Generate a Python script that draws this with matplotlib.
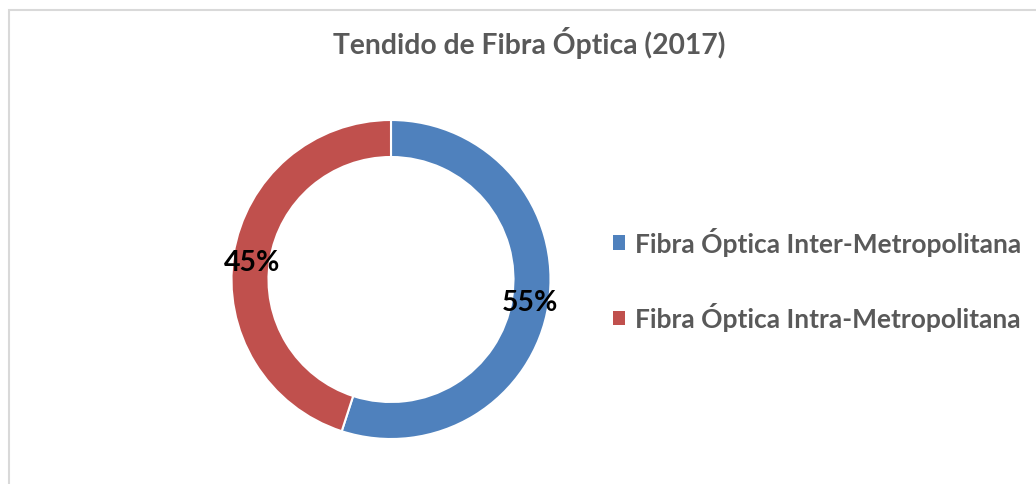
import matplotlib
matplotlib.use('Agg')
from matplotlib import pyplot
from matplotlib.patches import Patch, Rectangle

# data
labels = ['Fibra Óptica Inter-Metropolitana', 'Fibra Óptica Intra-Metropolitana']
shares = [55, 45]
colors = ['#4F81BD', '#C0504D']
title  = 'Tendido de Fibra Óptica (2017)'

pyplot.rcParams['font.family'] = ['Lato', 'DejaVu Sans']
W, H = 1036, 485
fig = pyplot.figure(figsize=(W/100, H/100), dpi=100)

# chart frame (cropped on right/bottom)
fig.patches.append(Rectangle((9/W, -0.1), 1.2, 1 - 11/H + 0.1, transform=fig.transFigure,
                             fill=False, edgecolor='#d9d9d9', lw=1.5))

# donut axes: centre (391, 280.5) px, outer radius 159.5 px
cx, cy, r = 391, 280.5, 159.5
ax = fig.add_axes([(cx - r)/W, (H - cy - r)/H, 2*r/W, 2*r/H])
wedges, texts, autotexts = ax.pie(shares, colors=colors, startangle=90, counterclock=False,
                                  radius=1, autopct='%1.0f%%', pctdistance=0.884,
                                  wedgeprops=dict(width=0.232, edgecolor='white', linewidth=1.5),
                                  textprops=dict(color='black', fontsize=20.5, fontweight='bold'))
ax.set_xlim(-1, 1); ax.set_ylim(-1, 1)
ax.set_aspect('auto')
ax.axis('off')
# Excel nudges the left label down a little
x, y = autotexts[1].get_position()
autotexts[1].set_position((x, y - 0.03))

fig.text(529/W, 1 - 43/H, title, ha='center', va='center', fontsize=20.3,
         fontweight='bold', color='#595959')

handles = [Patch(facecolor=c, edgecolor='none') for c in colors]
leg = fig.legend(handles, labels, loc='center left', bbox_to_anchor=(613/W, 1 - 280/H),
                 frameon=False, fontsize=19, handlelength=0.45, handleheight=0.45,
                 handletextpad=0.4, labelspacing=1.75, borderpad=0, borderaxespad=0)
for t in leg.get_texts():
    t.set_color('#595959'); t.set_fontweight('bold')

fig.savefig('out.png', dpi=100, facecolor='white')
